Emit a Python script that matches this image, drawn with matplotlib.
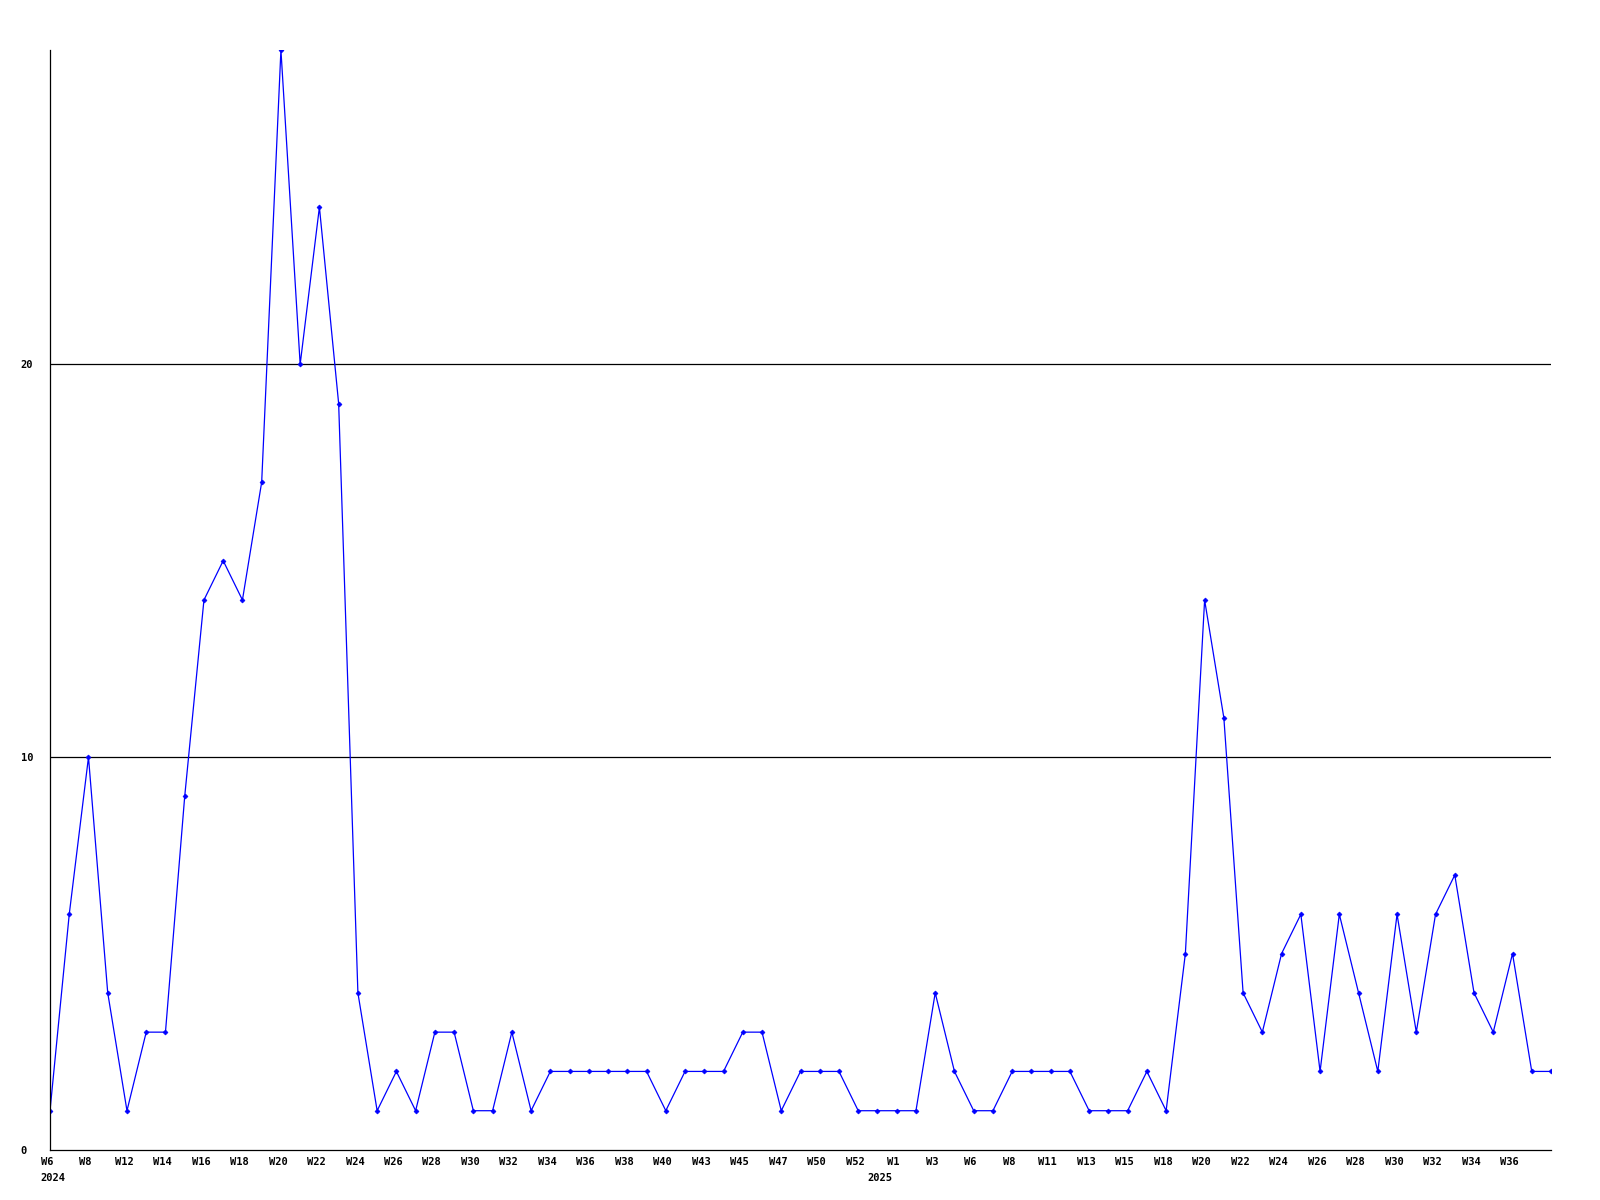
import matplotlib
matplotlib.use("Agg")
import matplotlib.pyplot as plt
import matplotlib.transforms as mtransforms

# weekly counts, W6 2024 .. W37 2025
counts = [1, 6, 10, 4, 1, 3, 3, 9, 14, 15, 14, 17, 28, 20, 24, 19, 4, 1, 2, 1,
          3, 3, 1, 1, 3, 1, 2, 2, 2, 2, 2, 2, 1, 2, 2, 2, 3, 3, 1, 2,
          2, 2, 1, 1, 1, 1, 4, 2, 1, 1, 2, 2, 2, 2, 1, 1, 1, 2, 1, 5,
          14, 11, 4, 3, 5, 6, 2, 6, 4, 2, 6, 3, 6, 7, 4, 3, 5, 2, 2]

# labels shown on every other point
tick_labels = ["W6", "W8", "W12", "W14", "W16", "W18", "W20", "W22", "W24", "W26",
               "W28", "W30", "W32", "W34", "W36", "W38", "W40", "W43", "W45", "W47",
               "W50", "W52", "W1", "W3", "W6", "W8", "W11", "W13", "W15", "W18",
               "W20", "W22", "W24", "W26", "W28", "W30", "W32", "W34", "W36"]
years = ["2024", "2025"]
year_pos = [0.15, 43.1]

font = dict(family="DejaVu Sans Mono", fontweight="bold", fontsize=7.5)

fig = plt.figure(figsize=(16, 12), dpi=100)
ax = fig.add_axes([50 / 1600, 1 - 1150 / 1200, 1501 / 1600, 1100 / 1200])

x = list(range(len(counts)))
ax.plot(x, counts, color="#0000ff", linewidth=0.9, marker="D", markersize=2.5,
        markerfacecolor="#0000ff", markeredgewidth=0.5)

ax.set_xlim(0, len(counts) - 1)
ax.set_ylim(0, 28)

for v in [10, 20]:
    ax.axhline(v, color="black", linewidth=0.9, zorder=0)

ax.spines["top"].set_visible(False)
ax.spines["right"].set_visible(False)
ax.spines["left"].set_linewidth(0.9)
ax.spines["bottom"].set_linewidth(0.9)

ax.set_yticks([0, 10, 20])
ax.set_yticklabels(["0", "10", "20"], **font)
for lab in ax.get_yticklabels():
    lab.set_horizontalalignment("left")
ax.tick_params(axis="y", length=0, pad=21)

ax.set_xticks(x[0:2 * len(tick_labels):2])
ax.set_xticklabels(tick_labels, **font)
ax.tick_params(axis="x", length=0, pad=5)
shift = mtransforms.ScaledTranslation(-3 / 100, 0, fig.dpi_scale_trans)
for lab in ax.get_xticklabels():
    lab.set_transform(lab.get_transform() + shift)

trans = mtransforms.blended_transform_factory(ax.transData, ax.transAxes)
for yr, pos in zip(years, year_pos):
    ax.text(pos, -0.0205, yr, transform=trans, ha="center", va="top", **font)

fig.savefig("out.png", dpi=100)
